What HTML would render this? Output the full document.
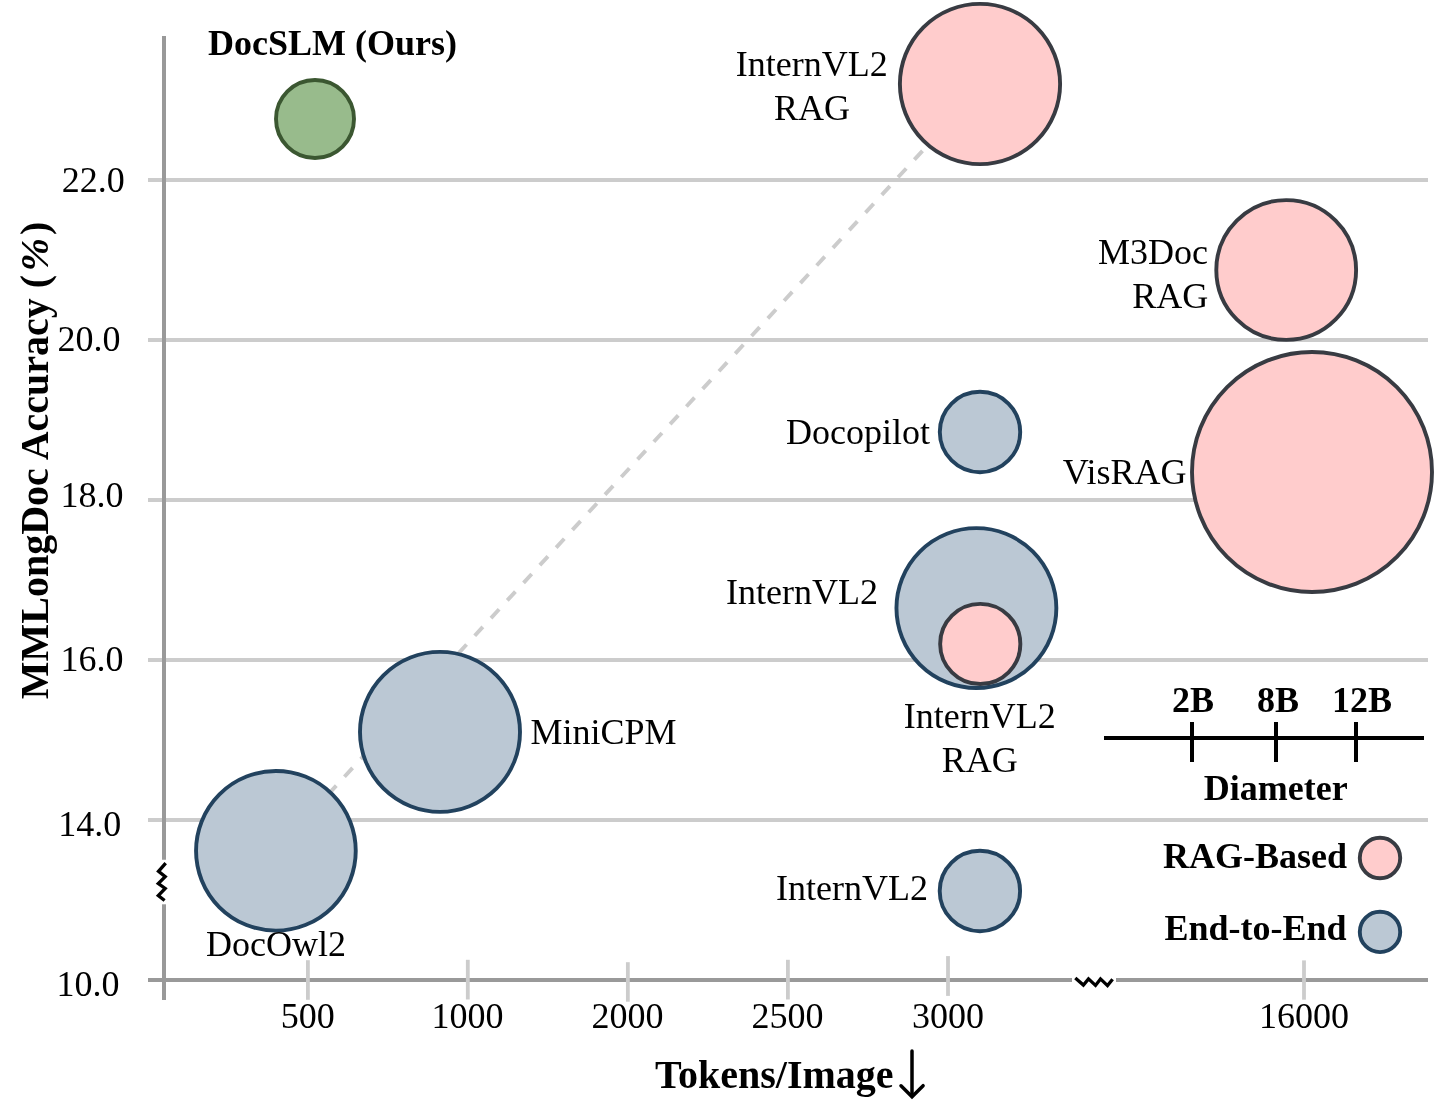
<!DOCTYPE html>
<html>
<head>
<meta charset="utf-8">
<title>Bubble chart</title>
<style>
  html, body { margin: 0; padding: 0; background: #ffffff; }
  body { width: 1440px; height: 1108px; overflow: hidden; }
  svg { display: block; will-change: transform; }
  text { font-family: "Liberation Serif", serif; fill: #000; }
  .r { font-size: 36px; }
  .b { font-size: 36px; font-weight: bold; }
  .t { font-size: 40px; font-weight: bold; }
</style>
</head>
<body>
<svg width="1440" height="1108" viewBox="0 0 1440 1108">
  <rect x="0" y="0" width="1440" height="1108" fill="#ffffff"/>

  <!-- horizontal grid lines -->
  <g stroke="#cccccc" stroke-width="4" fill="none">
    <line x1="148" y1="180" x2="1428" y2="180"/>
    <line x1="148" y1="340" x2="1428" y2="340"/>
    <line x1="148" y1="500" x2="1428" y2="500"/>
    <line x1="148" y1="660" x2="1428" y2="660"/>
    <line x1="148" y1="820" x2="1428" y2="820"/>
  </g>

  <!-- x axis (with break) -->
  <g stroke="#999999" stroke-width="4" fill="none">
    <line x1="148" y1="980" x2="1072" y2="980"/>
    <line x1="1116" y1="980" x2="1428" y2="980"/>
  </g>

  <!-- x ticks -->
  <g stroke="#cccccc" stroke-width="3.8" fill="none">
    <line x1="307.9" y1="960.2" x2="307.9" y2="999.8"/>
    <line x1="467.8" y1="959.8" x2="467.8" y2="999.5"/>
    <line x1="627.85" y1="962.2" x2="627.85" y2="1001.7"/>
    <line x1="787.9" y1="959.8" x2="787.9" y2="999.5"/>
    <line x1="948" y1="956.1" x2="948" y2="995.9"/>
    <line x1="1304" y1="960.4" x2="1304" y2="999.7"/>
  </g>

  <!-- y axis (with break) -->
  <g stroke="#999999" stroke-width="4" fill="none">
    <line x1="164" y1="36" x2="164" y2="859.7"/>
    <line x1="164" y1="904.3" x2="164" y2="1000"/>
  </g>

  <!-- axis break zigzags -->
  <g stroke="#000000" stroke-width="3.3" fill="none" stroke-linejoin="miter" stroke-linecap="butt">
    <polyline points="165.7,863.2 158.5,871.4 165.2,876.7 158.3,883.5 165.2,888.4 158.3,895.5 164.6,900.5"/>
    <polyline points="1075.3,977.9 1083.4,985.1 1088.5,978.9 1095.5,985.4 1100.5,978.9 1107.5,985.6 1112.6,979.2"/>
  </g>

  <!-- dashed trend line -->
  <line x1="276.8" y1="850" x2="984.7" y2="83.5" stroke="#cccccc" stroke-width="3.9" stroke-dasharray="12 12" stroke-dashoffset="-3.7" fill="none"/>

  <!-- bubbles -->
  <g stroke-width="3.9">
    <!-- DocSLM -->
    <circle cx="315" cy="119" r="39" fill="#98bb8c" stroke="#3b5731"/>
    <!-- InternVL2 RAG top -->
    <circle cx="980" cy="84" r="80.1" fill="#ffcccc" stroke="#383b42"/>
    <!-- M3Doc RAG -->
    <circle cx="1286.2" cy="270" r="69.9" fill="#ffcccc" stroke="#383b42"/>
    <!-- VisRAG -->
    <circle cx="1312" cy="472" r="120" fill="#ffcccc" stroke="#383b42"/>
    <!-- Docopilot -->
    <circle cx="980" cy="432" r="40.2" fill="#bbc8d4" stroke="#22425e"/>
    <!-- InternVL2 big -->
    <circle cx="976.4" cy="608.1" r="79.95" fill="#bbc8d4" stroke="#22425e"/>
    <!-- InternVL2 RAG small -->
    <circle cx="980.25" cy="643.95" r="40.1" fill="#ffcccc" stroke="#383b42"/>
    <!-- MiniCPM -->
    <circle cx="440" cy="731.9" r="80" fill="#bbc8d4" stroke="#22425e"/>
    <!-- DocOwl2 -->
    <circle cx="275.9" cy="850.8" r="79.85" fill="#bbc8d4" stroke="#22425e"/>
    <!-- InternVL2 small bottom -->
    <circle cx="979.9" cy="891" r="40.2" fill="#bbc8d4" stroke="#22425e"/>
    <!-- legend -->
    <circle cx="1380" cy="858" r="20.2" fill="#ffcccc" stroke="#383b42"/>
    <circle cx="1380" cy="931.9" r="20.2" fill="#bbc8d4" stroke="#22425e"/>
  </g>

  <!-- legend scale -->
  <g stroke="#000000" stroke-width="4" fill="none">
    <line x1="1104" y1="738" x2="1424" y2="738"/>
    <line x1="1192" y1="722" x2="1192" y2="762"/>
    <line x1="1276" y1="722" x2="1276" y2="762"/>
    <line x1="1356" y1="722" x2="1356" y2="762"/>
  </g>

  <!-- y tick labels -->
  <text class="r" x="124.8" y="191.5" text-anchor="end">22.0</text>
  <text class="r" x="120.5" y="351.4" text-anchor="end">20.0</text>
  <text class="r" x="123.4" y="507.3" text-anchor="end">18.0</text>
  <text class="r" x="123.4" y="671.4" text-anchor="end">16.0</text>
  <text class="r" x="121.2" y="836" text-anchor="end">14.0</text>
  <text class="r" x="119.6" y="995.9" text-anchor="end">10.0</text>

  <!-- x tick labels -->
  <text class="r" x="307.8" y="1027.9" text-anchor="middle">500</text>
  <text class="r" x="467.5" y="1027.9" text-anchor="middle">1000</text>
  <text class="r" x="627.6" y="1027.9" text-anchor="middle">2000</text>
  <text class="r" x="787.6" y="1027.9" text-anchor="middle">2500</text>
  <text class="r" x="947.9" y="1027.9" text-anchor="middle">3000</text>
  <text class="r" x="1304" y="1027.9" text-anchor="middle">16000</text>

  <!-- bubble labels -->
  <text class="b" x="208" y="55.2">DocSLM (Ours)</text>
  <text class="r" x="811.8" y="75.5" text-anchor="middle">InternVL2</text>
  <text class="r" x="811.9" y="120" text-anchor="middle">RAG</text>
  <text class="r" x="1208" y="263.8" text-anchor="end">M3Doc</text>
  <text class="r" x="1208.2" y="307.5" text-anchor="end">RAG</text>
  <text class="r" x="1186.5" y="483.9" text-anchor="end">VisRAG</text>
  <text class="r" x="930" y="444.4" text-anchor="end">Docopilot</text>
  <text class="r" x="878" y="603.8" text-anchor="end">InternVL2</text>
  <text class="r" x="979.7" y="727.5" text-anchor="middle">InternVL2</text>
  <text class="r" x="979.7" y="772" text-anchor="middle">RAG</text>
  <text class="r" x="927.9" y="900" text-anchor="end">InternVL2</text>
  <text class="r" x="530.4" y="743.5">MiniCPM</text>
  <text class="r" x="206" y="955.5">DocOwl2</text>

  <!-- legend labels -->
  <text class="b" x="1193" y="712" text-anchor="middle">2B</text>
  <text class="b" x="1277.9" y="712" text-anchor="middle">8B</text>
  <text class="b" x="1362" y="712" text-anchor="middle">12B</text>
  <text class="b" x="1275.8" y="800" text-anchor="middle">Diameter</text>
  <text class="b" x="1347.1" y="868.4" text-anchor="end">RAG-Based</text>
  <text class="b" x="1346.6" y="940.2" text-anchor="end">End-to-End</text>

  <!-- axis titles -->
  <text class="t" x="655" y="1088.2">Tokens/Image</text>
  <g stroke="#000000" stroke-width="3.5" fill="none" stroke-linecap="round" stroke-linejoin="miter">
    <line x1="912" y1="1051" x2="912" y2="1095.6"/>
    <polyline points="901,1085.8 912,1096.7 923.1,1085.7"/>
  </g>
  <text class="t" transform="translate(47.5 699.2) rotate(-90)" x="0" y="0">MMLongDoc Accuracy (<tspan font-style="italic" dx="3.5">%</tspan><tspan dx="3">)</tspan></text>
</svg>
</body>
</html>
